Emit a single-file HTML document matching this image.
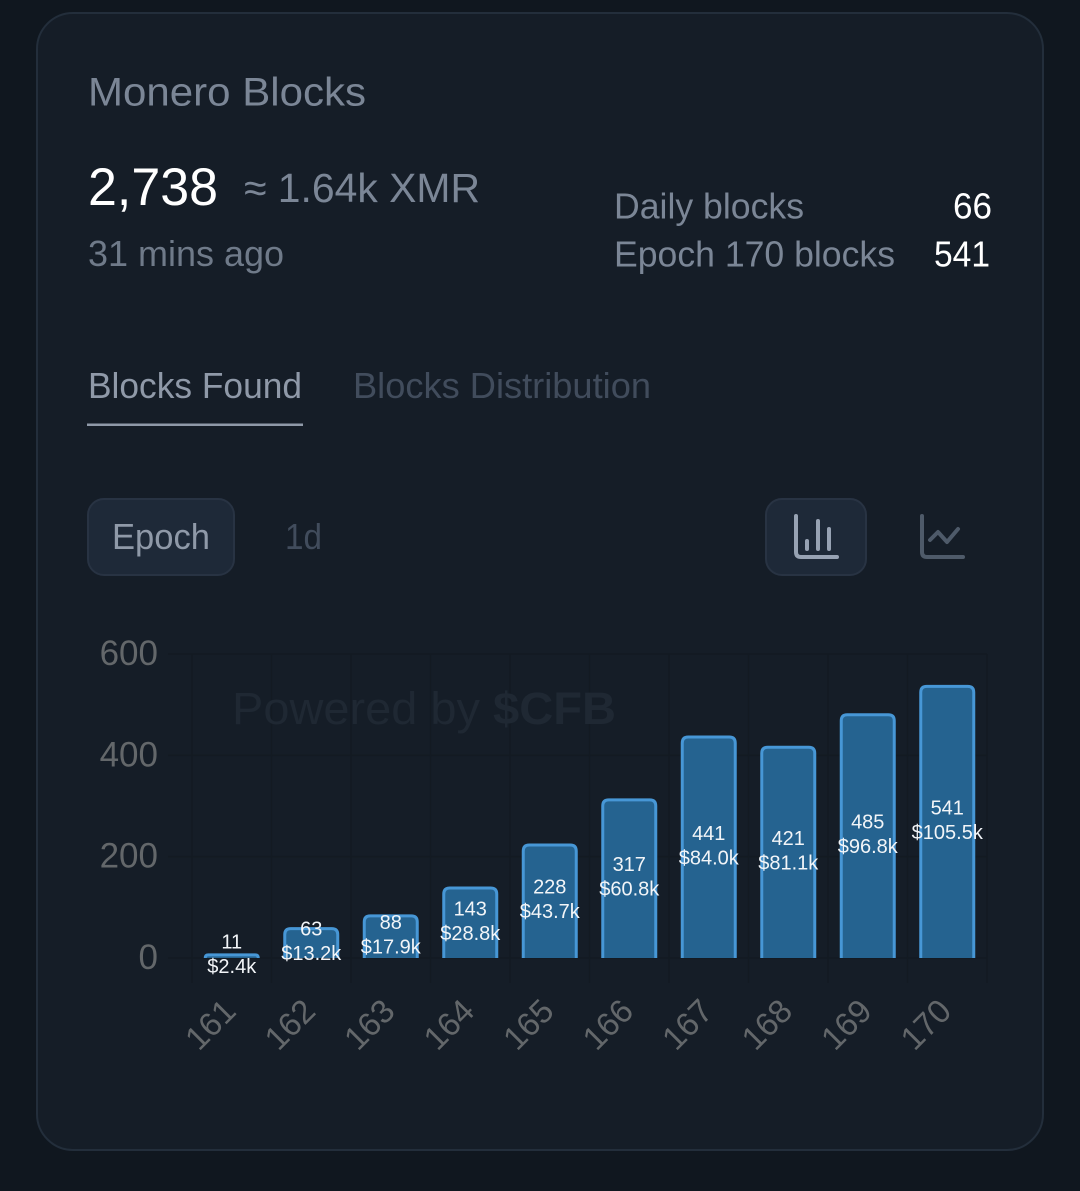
<!DOCTYPE html>
<html lang="en">
<head>
<meta charset="utf-8">
<title>Monero Blocks</title>
<style>
html,body{margin:0;padding:0;background:#10171f;}
body{width:1080px;height:1191px;overflow:hidden;}
svg{display:block;font-family:"Liberation Sans",sans-serif;}
</style>
</head>
<body>
<svg id="root" width="1080" height="1191" viewBox="0 0 1080 1191" xmlns="http://www.w3.org/2000/svg">
  <rect x="0" y="0" width="1080" height="1191" fill="#10171f"/>
  <rect x="37" y="13" width="1006" height="1137" rx="36" ry="36" fill="#151d27" stroke="#232e3b" stroke-width="2"/>

  <text x="88" y="105.5" font-size="40" fill="#7b8696" textLength="278" lengthAdjust="spacingAndGlyphs">Monero Blocks</text>
  <text x="88" y="205" font-size="53" fill="#ffffff" textLength="130" lengthAdjust="spacingAndGlyphs">2,738</text>
  <text x="244" y="202" font-size="41" fill="#7b8696" textLength="236" lengthAdjust="spacingAndGlyphs">≈ 1.64k XMR</text>
  <text x="88" y="266" font-size="36" fill="#6f7a89" textLength="196" lengthAdjust="spacingAndGlyphs">31 mins ago</text>

  <text x="614" y="218.5" font-size="36" fill="#7b8696" textLength="190" lengthAdjust="spacingAndGlyphs">Daily blocks</text>
  <text x="953" y="218.5" font-size="36" fill="#ffffff" textLength="39" lengthAdjust="spacingAndGlyphs">66</text>
  <text x="614" y="266.5" font-size="36" fill="#7b8696" textLength="281" lengthAdjust="spacingAndGlyphs">Epoch 170 blocks</text>
  <text x="934" y="266.5" font-size="36" fill="#ffffff" textLength="56" lengthAdjust="spacingAndGlyphs">541</text>

  <text x="88" y="398" font-size="36" fill="#8f99a8" textLength="214" lengthAdjust="spacingAndGlyphs">Blocks Found</text>
  <rect x="87" y="423.5" width="216" height="2.5" fill="#8f99a8"/>
  <text x="353" y="398" font-size="36" fill="#414c5c" textLength="298" lengthAdjust="spacingAndGlyphs">Blocks Distribution</text>

  <rect x="88" y="499" width="146" height="76" rx="16" fill="#1e2938" stroke="#283343" stroke-width="2"/>
  <text x="112" y="549" font-size="36" fill="#8f99a8" textLength="98" lengthAdjust="spacingAndGlyphs">Epoch</text>
  <text x="285" y="549" font-size="36" fill="#414c5c" textLength="37" lengthAdjust="spacingAndGlyphs">1d</text>

  <rect x="766" y="499" width="100" height="76" rx="16" fill="#1e2938" stroke="#283343" stroke-width="2"/>
  <g fill="none" stroke="#97a2b3" stroke-width="4" stroke-linecap="round" stroke-linejoin="round">
    <path d="M796 516V552Q796 557 801 557H837"/>
    <path d="M807 541V549"/>
    <path d="M818 521V549"/>
    <path d="M829 529V549"/>
  </g>
  <g fill="none" stroke="#4e5a69" stroke-width="4" stroke-linecap="round" stroke-linejoin="round">
    <path d="M922 516V552Q922 557 927 557H963"/>
    <path d="M930 540L938 532L947 542L958 529"/>
  </g>

  <g id="chart"></g>
</svg>
<script>
const categories = ['161','162','163','164','165','166','167','168','169','170'];
const blocks = [11,63,88,143,228,317,441,421,485,541];
const rewards = ['$2.4k','$13.2k','$17.9k','$28.8k','$43.7k','$60.8k','$84.0k','$81.1k','$96.8k','$105.5k'];
const yTicks = [0,200,400,600];

const NS = 'http://www.w3.org/2000/svg';
const chart = document.getElementById('chart');
const plot = {left:192, right:987, top:654, bottom:958};
const yMax = yTicks[yTicks.length - 1];
const band = (plot.right - plot.left) / categories.length;
const xScale = i => plot.left + band * (i + 0.5);
const yScale = v => plot.bottom - (v / yMax) * (plot.bottom - plot.top);

function make(tag, attrs, text) {
  const el = document.createElementNS(NS, tag);
  for (const k in attrs) el.setAttribute(k, attrs[k]);
  if (text !== undefined) el.textContent = text;
  chart.appendChild(el);
  return el;
}

yTicks.forEach(t => {
  const y = yScale(t);
  const line = make('line', {x1:168, x2:plot.right, y1:y, y2:y, stroke:'#131a22', 'stroke-width':1.5});
  
  
  const label = make('text', {x:158, y:y + 11, 'font-size':35, fill:'#63676a', 'text-anchor':'end'}, String(t));
  
  
});

for (let i = 0; i <= categories.length; i++) {
  const x = plot.left + band * i;
  const line = make('line', {x1:x, x2:x, y1:plot.top, y2:983, stroke:'#131a22', 'stroke-width':1.5});
  
  
}

const wm1 = make('text', {x:232, y:724, 'font-size':45, fill:'#1f2833', textLength:248, lengthAdjust:'spacingAndGlyphs'}, 'Powered by');


const wm2 = make('text', {x:493, y:724, 'font-size':45, 'font-weight':'bold', fill:'#1f2833', textLength:123, lengthAdjust:'spacingAndGlyphs'}, '$CFB');



const barWidth = 56;
const strokeW = 3;
blocks.forEach((v, i) => {
  const cx = xScale(i);
  const top = yScale(v);
  const l = cx - barWidth / 2 + strokeW / 2;
  const r = cx + barWidth / 2 - strokeW / 2;
  const t = top + strokeW / 2 + 1;
  const rad = Math.min(6, Math.max(plot.bottom - t, 0));
  const d = `M${l} ${plot.bottom}V${t + rad}Q${l} ${t} ${l + rad} ${t}H${r - rad}Q${r} ${t} ${r} ${t + rad}V${plot.bottom}`;
  const bar = make('path', {d:d, fill:'#256390', stroke:'#4797d6', 'stroke-width':strokeW});
  
  
});

blocks.forEach((v, i) => {
  const cx = xScale(i);
  const mid = (yScale(v) + plot.bottom) / 2;
  const a = make('text', {x:cx, y:mid - 6.5, 'font-size':20, fill:'#f2f5f8', 'text-anchor':'middle'}, String(v));
  
  
  const b = make('text', {x:cx, y:mid + 18, 'font-size':20, fill:'#f2f5f8', 'text-anchor':'middle'}, rewards[i]);
  
  
});

categories.forEach((c, i) => {
  const x = xScale(i) + 6;
  const y = 1013;
  const label = make('text', {x:x, y:y, 'font-size':33, fill:'#63676a', 'text-anchor':'end', transform:`rotate(-45 ${x} ${y})`}, c);
  
  
});
</script>
</body>
</html>
